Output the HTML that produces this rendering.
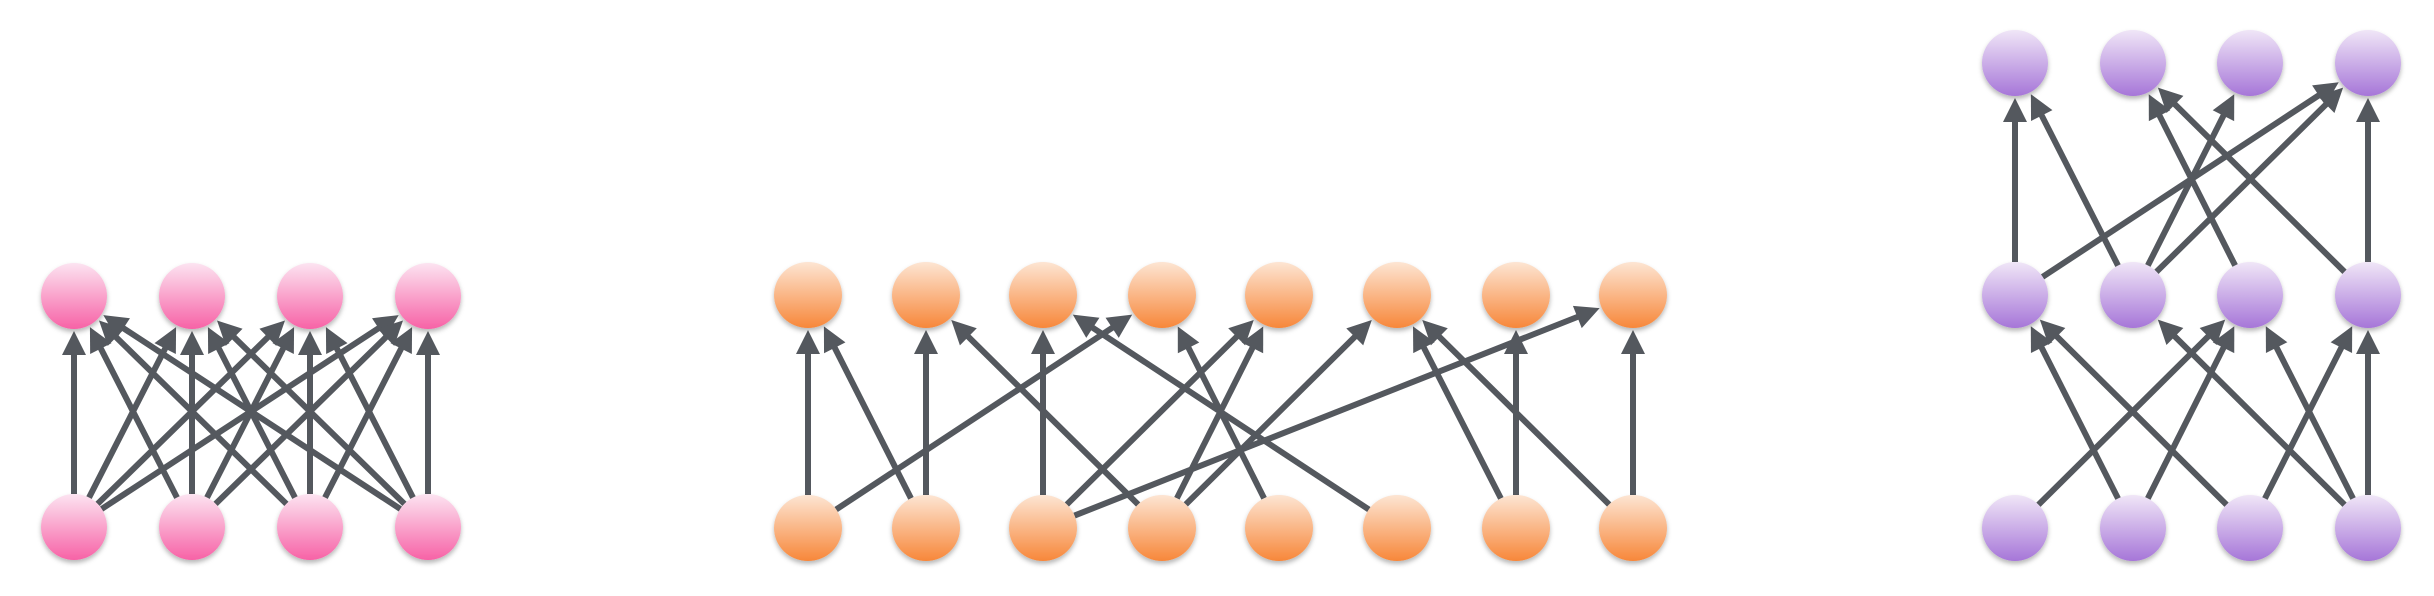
<!DOCTYPE html>
<html><head><meta charset="utf-8"><style>
html,body{margin:0;padding:0;background:#fff;}
svg{display:block;}
</style></head><body>
<svg id="chart" width="2434" height="596" viewBox="0 0 2434 596" xmlns="http://www.w3.org/2000/svg">
<defs>
<linearGradient id="gPink" x1="0" y1="0" x2="0" y2="1"><stop offset="0" stop-color="#fce4f1"/><stop offset="1" stop-color="#f762a6"/></linearGradient>
<linearGradient id="gOrange" x1="0" y1="0" x2="0" y2="1"><stop offset="0" stop-color="#fde5d3"/><stop offset="1" stop-color="#f7873a"/></linearGradient>
<linearGradient id="gPurple" x1="0" y1="0" x2="0" y2="1"><stop offset="0" stop-color="#f0e6f7"/><stop offset="1" stop-color="#a676d8"/></linearGradient>
<filter id="sh" x="-30%" y="-30%" width="160%" height="170%"><feDropShadow dx="0" dy="3" stdDeviation="2.5" flood-color="#000" flood-opacity="0.28"/></filter>
</defs>
<g id="edges"></g>
<g id="nodes"></g>
</svg>
<script>
// Pink: fully connected layer (4 -> 4)
const pinkX = [74, 192, 310, 428];
const pinkY = [527, 296];
const pinkEdges = [[0,0],[0,1],[0,2],[0,3],[1,0],[1,1],[1,2],[1,3],[2,0],[2,1],[2,2],[2,3],[3,0],[3,1],[3,2],[3,3]];
// Orange: sparse layer (8 -> 8)
const orangeX = [808, 926, 1043, 1162, 1279, 1397, 1516, 1633];
const orangeY = [528, 295];
const orangeEdges = [[0,0],[0,3],[1,0],[1,1],[2,2],[2,4],[2,7],[3,1],[3,4],[3,5],[4,3],[5,2],[6,5],[6,6],[7,5],[7,7]];
// Purple: two sparse layers (4 -> 4 -> 4)
const purpleX = [2015, 2133, 2250, 2368];
const purpleY = [528, 295, 63];
const purpleEdgesLow = [[0,2],[1,0],[1,2],[2,0],[2,3],[3,1],[3,2],[3,3]];
const purpleEdgesHigh = [[0,0],[0,3],[1,0],[1,2],[1,3],[2,1],[3,1],[3,3]];

const NS = 'http://www.w3.org/2000/svg';
const eg = document.getElementById('edges');
const ng = document.getElementById('nodes');

function boundary(rx, ry, dx, dy){
  return 1/Math.sqrt((dx/rx)*(dx/rx)+(dy/ry)*(dy/ry));
}
function arrow(x1,y1,x2,y2,rx,ry,name){
  const dx=x2-x1, dy=y2-y1, L=Math.hypot(dx,dy);
  const ux=dx/L, uy=dy/L;
  const t=boundary(rx,ry,dx,dy);
  const sx=x1+dx*t, sy=y1+dy*t;
  const tx=x2-dx*t-ux*2, ty=y2-dy*t-uy*2;
  const AL=24, AW=12;
  const bx=tx-ux*AL, by=ty-uy*AL;
  const g=document.createElementNS(NS,'g');
  
  
  const ln=document.createElementNS(NS,'line');
  ln.setAttribute('x1',sx);ln.setAttribute('y1',sy);
  ln.setAttribute('x2',bx+ux*2);ln.setAttribute('y2',by+uy*2);
  ln.setAttribute('stroke','#54585e');ln.setAttribute('stroke-width','6');
  const p=document.createElementNS(NS,'polygon');
  p.setAttribute('points',[tx,ty,bx-uy*AW,by+ux*AW,bx+uy*AW,by-ux*AW].join(' '));
  p.setAttribute('fill','#54585e');
  g.appendChild(ln);g.appendChild(p);
  eg.appendChild(g);
}
function node(x,y,rx,ry,fill,name){
  const e=document.createElementNS(NS,'ellipse');
  e.setAttribute('cx',x);e.setAttribute('cy',y);e.setAttribute('rx',rx);e.setAttribute('ry',ry);
  e.setAttribute('fill',fill);e.setAttribute('filter','url(#sh)');
  
  
  ng.appendChild(e);
}
function layer(xs, yFrom, yTo, edges, rx, ry, prefix){
  edges.forEach(([a,b])=>arrow(xs[a],yFrom,xs[b],yTo,rx,ry,prefix+'-edge-'+a+'-'+b));
}
layer(pinkX,pinkY[0],pinkY[1],pinkEdges,33,33,'pink');
layer(orangeX,orangeY[0],orangeY[1],orangeEdges,34,33,'orange');
layer(purpleX,purpleY[0],purpleY[1],purpleEdgesLow,33,33,'purple-low');
layer(purpleX,purpleY[1],purpleY[2],purpleEdgesHigh,33,33,'purple-high');
pinkY.forEach((y,r)=>pinkX.forEach((x,i)=>node(x,y,33,33,'url(#gPink)','pink-node-r'+r+'-'+i)));
orangeY.forEach((y,r)=>orangeX.forEach((x,i)=>node(x,y,34,33,'url(#gOrange)','orange-node-r'+r+'-'+i)));
purpleY.forEach((y,r)=>purpleX.forEach((x,i)=>node(x,y,33,33,'url(#gPurple)','purple-node-r'+r+'-'+i)));
</script>
</body></html>
